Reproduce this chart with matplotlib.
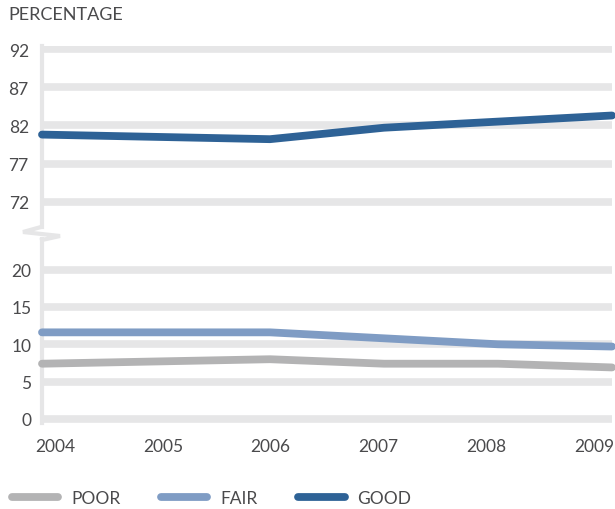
import matplotlib
matplotlib.use("Agg")
import matplotlib.pyplot as plt
from matplotlib.lines import Line2D

years = [2004, 2005, 2006, 2007, 2008, 2009]
good = [80.8, 80.5, 80.2, 81.7, 82.5, 83.3]
fair = [11.6, 11.6, 11.6, 10.8, 10.0, 9.7]
poor = [7.4, 7.7, 8.0, 7.4, 7.4, 6.9]
upper_ticks = [72, 77, 82, 87, 92]
lower_ticks = [0, 5, 10, 15, 20]
series_names = ["POOR", "FAIR", "GOOD"]

C_GOOD = "#2e6296"
C_FAIR = "#7f9cc4"
C_POOR = "#b3b3b4"
C_GRID = "#e6e6e7"
C_TEXT = "#4a4a4c"

plt.rcParams['font.family'] = ['Lato', 'DejaVu Sans']
plt.rcParams['font.weight'] = 'normal'

W, H = 615, 510
fig = plt.figure(figsize=(W / 100, H / 100), dpi=100)

def fx(px):
    return px / W

def fy(py):
    return 1 - py / H

ax_top = fig.add_axes([fx(42), fy(228), fx(570), 181 / H])
ax_bot = fig.add_axes([fx(42), fy(424), fx(570), 184 / H])

ax_top.set_ylim(68.7, 92.4)
ax_bot.set_ylim(-0.54, 24.1)

for ax, ticks, pad in ((ax_top, upper_ticks, 9.5), (ax_bot, lower_ticks, 7.5)):
    ax.set_xlim(2004, 2009)
    ax.set_yticks(ticks)
    ax.set_yticklabels([str(t) for t in ticks])
    ax.tick_params(axis='y', length=0, pad=pad, labelsize=12.5, labelcolor=C_TEXT)
    ax.tick_params(axis='x', length=0, labelbottom=False)
    for s in ("top", "right", "bottom"):
        ax.spines[s].set_visible(False)
    ax.spines["left"].set_color(C_GRID)
    ax.spines["left"].set_linewidth(3)
    ax.grid(axis='y', color=C_GRID, lw=5.5, solid_capstyle='butt')
    ax.grid(axis='x', visible=False)
    ax.set_axisbelow(True)
    ax.patch.set_alpha(0)

lw = 5.6
ax_top.plot(years, good, color=C_GOOD, lw=lw, solid_capstyle='round',
            solid_joinstyle='round', clip_on=False, zorder=3)
ax_bot.plot(years, fair, color=C_FAIR, lw=lw, solid_capstyle='round',
            solid_joinstyle='round', clip_on=False, zorder=3)
ax_bot.plot(years, poor, color=C_POOR, lw=lw, solid_capstyle='round',
            solid_joinstyle='round', clip_on=False, zorder=3)

# year labels (slightly inset, as in the reference)
start, step = 2004.114, 0.946
sec = ax_bot.secondary_xaxis('bottom',
                             functions=(lambda x: 2004 + (x - start) / step,
                                        lambda s: start + (s - 2004) * step))
sec.set_xticks(years)
sec.set_xticklabels([str(y) for y in years])
sec.tick_params(length=0, pad=11, labelsize=12.5, labelcolor=C_TEXT)
sec.spines['bottom'].set_visible(False)

# axis break symbol
xs = [41, 23, 60, 42]
ys = [228, 233, 237, 241]
fig.add_artist(Line2D([fx(x) for x in xs], [fy(y) for y in ys],
                      transform=fig.transFigure, color=C_GRID, lw=3,
                      solid_joinstyle='miter'))

fig.text(fx(8), fy(15), "PERCENTAGE", fontsize=13, color=C_TEXT,
         ha='left', va='center')

handles = [Line2D([], [], color=c, lw=lw, solid_capstyle='round')
           for c in (C_POOR, C_FAIR, C_GOOD)]
leg = fig.legend(handles, series_names, loc='center left',
                 bbox_to_anchor=(fx(11.5), fy(499)), ncol=3, frameon=False,
                 fontsize=12.5, handlelength=2.7, handletextpad=0.75,
                 columnspacing=2.3, borderpad=0, borderaxespad=0)
for t in leg.get_texts():
    t.set_color(C_TEXT)

fig.savefig("out.png", dpi=100)
